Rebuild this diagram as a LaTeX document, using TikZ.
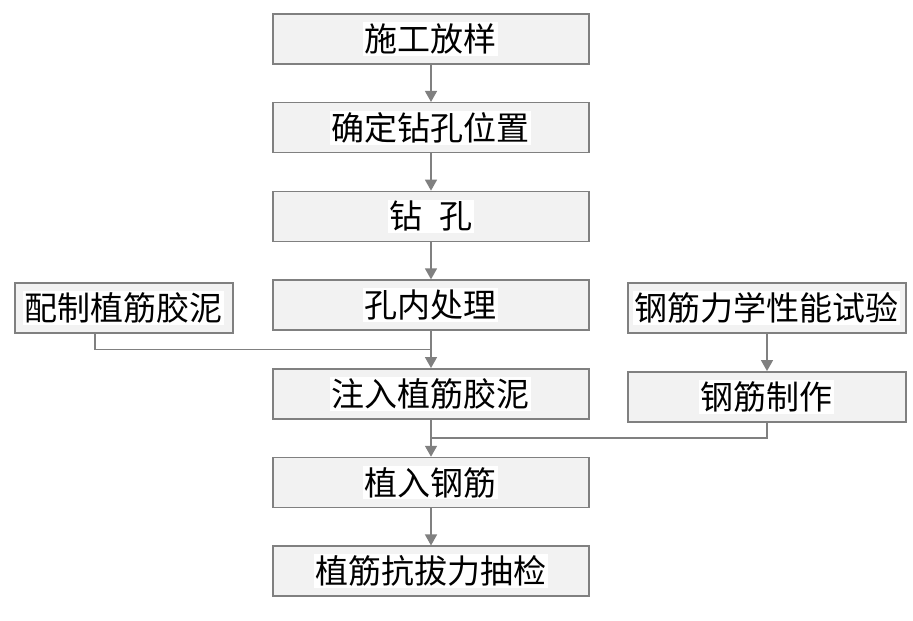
\documentclass[tikz,border=0pt]{standalone}
\usepackage{fontspec}
\newfontfamily\cjk{Noto Sans CJK SC}
\usetikzlibrary{arrows.meta,calc}
\definecolor{linegray}{RGB}{128,128,128}
\definecolor{boxgray}{RGB}{242,242,242}
\newcommand{\hl}[1]{{\setlength{\fboxsep}{1.5pt}\colorbox{white}{#1}}}
\tikzset{
  stepbox/.style={draw=linegray, line width=1.5pt, fill=boxgray, minimum height=50pt,
    inner sep=0pt, font=\cjk\fontsize{33}{36}\selectfont},
  mainbox/.style={stepbox, minimum width=316pt},
  sidebox/.style={stepbox, yshift=-3pt},
  testbox/.style={sidebox, minimum width=278pt, xshift=29pt},
  flow/.style={draw=linegray, line width=1.5pt, -{Triangle[width=12pt,length=11pt]}},
  tieline/.style={draw=linegray, line width=1.5pt}
}
\begin{document}
\begin{tikzpicture}[x=1pt,y=1pt]
      \useasboundingbox (0,0) rectangle (913,-621);
      \matrix[column sep={307pt,between origins}, row sep={88.7pt,between origins},
        ampersand replacement=\&, matrix anchor=A1.center] at (431,-39)
      {
        \& \node[mainbox](A1) {\hl{施工放样}}; \& \\
        \& \node[mainbox](A2) {\hl{确定钻孔位置}}; \& \\
        \& \node[mainbox](A3) {\hl{钻\hspace{0.5em}孔}}; \& \\
        \node[sidebox, minimum width=218pt](L) {\hl{配制植筋胶泥}}; \& \node[mainbox](A4) {\hl{孔内处理}}; \& \node[testbox](R1) {\hl{钢筋力学性能试验}}; \\
        \& \node[mainbox](A5) {\hl{注入植筋胶泥}}; \& \node[testbox](R2) {\hl{钢筋制作}}; \\
        \& \node[mainbox](A6) {\hl{植入钢筋}}; \& \\
        \& \node[mainbox](A7) {\hl{植筋抗拔力抽检}}; \& \\
      };
      \coordinate (Lfoot) at ($(L.south west)!0.367!(L.south east)$);
      \coordinate (J1) at ($(A4.south)!0.5!(A5.north)$);
      \coordinate (J2) at ($(A5.south)!0.5!(A6.north)$);
      \draw[flow] (A1) -- (A2);
      \draw[flow] (A2) -- (A3);
      \draw[flow] (A3) -- (A4);
      \draw[flow] (A4) -- (A5);
      \draw[tieline] (Lfoot) |- (J1);
      \draw[flow] (R1) -- (R2);
      \draw[tieline] (R2.south) |- (J2);
      \draw[flow] (A5) -- (A6);
      \draw[flow] (A6) -- (A7);
    \end{tikzpicture}
\end{document}
